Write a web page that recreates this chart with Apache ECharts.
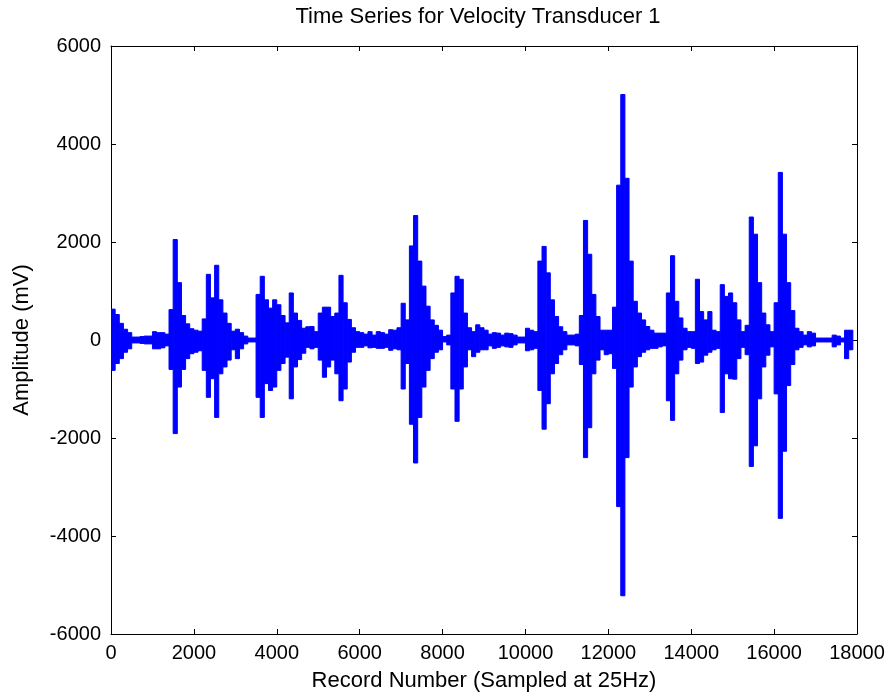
<!DOCTYPE html>
<html>
<head>
<meta charset="utf-8">
<script src="https://cdn.jsdelivr.net/npm/echarts@6/dist/echarts.min.js"></script>
<style>
  html, body { margin: 0; padding: 0; background: #fff; }
  #chart { width: 894px; height: 698px; }
</style>
</head>
<body>
<div id="chart"></div>
<script>
// envelope of the signal: max / min per block of 100 records
const recordsPerBlock = 100
const upper = [
  630, 520, 340, 220, 150, 60, 60, 70, 80, 80,
  170, 150, 150, 120, 620, 2050, 1170, 500, 330, 230,
  200, 180, 430, 1340, 860, 1525, 820, 550, 340, 180,
  220, 150, 80, 40, 40, 930, 1300, 820, 650, 820,
  720, 500, 350, 960, 550, 400, 240, 270, 275, 170,
  550, 670, 670, 480, 550, 1320, 760, 420, 250, 170,
  150, 120, 170, 100, 170, 150, 120, 210, 200, 250,
  750, 410, 1920, 2540, 1610, 1100, 690, 410, 300, 200,
  70, 100, 960, 1300, 1240, 550, 250, 170, 310, 250,
  200, 120, 150, 140, 100, 140, 130, 100, 60, 60,
  240, 200, 170, 1610, 1910, 1370, 820, 480, 270, 170,
  100, 100, 120, 500, 2440, 1750, 930, 480, 200, 200,
  200, 670, 3160, 5010, 3300, 1610, 790, 550, 410, 275,
  200, 140, 140, 140, 960, 1720, 790, 450, 240, 170,
  170, 1240, 580, 410, 580, 200, 170, 1130, 890, 960,
  760, 410, 170, 300, 2510, 2160, 1170, 550, 310, 170,
  760, 3420, 2160, 1170, 600, 240, 170, 100, 170, 140,
  40, 40, 40, 40, 100, 80, 40, 200, 200
]
const lower = [
  -620, -480, -380, -250, -180, -60, -60, -70, -80, -80,
  -180, -180, -160, -120, -600, -1910, -960, -600, -380, -280,
  -250, -220, -620, -1170, -790, -1580, -690, -550, -410, -200,
  -380, -180, -80, -40, -40, -1170, -1580, -890, -1030, -960,
  -620, -480, -350, -1200, -550, -400, -270, -150, -180, -150,
  -410, -760, -550, -410, -690, -1240, -1000, -450, -250, -150,
  -150, -120, -160, -150, -170, -170, -150, -210, -180, -200,
  -1000, -480, -1720, -2510, -1580, -960, -620, -380, -250, -200,
  -40, -100, -1000, -1660, -1000, -550, -200, -340, -250, -200,
  -200, -120, -170, -150, -120, -140, -150, -100, -60, -60,
  -220, -200, -170, -1030, -1820, -1300, -690, -480, -300, -200,
  -100, -100, -120, -500, -2400, -1790, -690, -410, -200, -300,
  -280, -580, -3400, -5220, -2400, -960, -550, -340, -250, -200,
  -170, -170, -140, -120, -1240, -1640, -690, -410, -200, -150,
  -170, -480, -450, -310, -250, -200, -170, -1480, -690, -790,
  -800, -380, -150, -300, -2580, -2160, -1200, -550, -310, -140,
  -1100, -3640, -2270, -930, -500, -200, -150, -100, -140, -120,
  -40, -40, -40, -40, -140, -100, -40, -380, -200
]
const xTicks = [0, 18000, 2000]
const yTicks = [-6000, 6000, 2000]

const blocks = upper.map((u, i) => [i * recordsPerBlock, u, lower[i]])

const font = "'Liberation Sans', Arial, sans-serif"
const frameLine = { show: true, onZero: false, lineStyle: { color: '#000', width: 1 } }
const tick = { show: true, inside: true, length: 5, lineStyle: { color: '#000' } }
const plain = v => String(v)

const chart = echarts.init(document.getElementById('chart'))
chart.setOption({
  animation: false,
  backgroundColor: '#fff',
  textStyle: { fontFamily: font },
  title: {
    text: 'Time Series for Velocity Transducer 1',
    left: 473,
    top: 1,
    textAlign: 'center',
    textStyle: { fontSize: 22, fontWeight: 'normal', color: '#000', fontFamily: font }
  },
  grid: { left: 111, right: 37, top: 46, bottom: 64 },
  xAxis: [
    {
      type: 'value',
      min: xTicks[0], max: xTicks[1], interval: xTicks[2],
      name: 'Record Number (Sampled at 25Hz)',
      nameLocation: 'middle',
      nameGap: 36,
      nameTextStyle: { fontSize: 22, color: '#000', fontFamily: font },
      axisLine: frameLine,
      axisTick: tick,
      axisLabel: { color: '#000', fontSize: 20, margin: 9, fontFamily: font, formatter: plain },
      splitLine: { show: false }
    },
    {
      type: 'value', position: 'top',
      min: xTicks[0], max: xTicks[1], interval: xTicks[2],
      axisLine: frameLine, axisTick: tick,
      axisLabel: { show: false }, splitLine: { show: false }
    }
  ],
  yAxis: [
    {
      type: 'value',
      min: yTicks[0], max: yTicks[1], interval: yTicks[2],
      name: 'Amplitude (mV)',
      nameLocation: 'middle',
      nameGap: 78,
      nameTextStyle: { fontSize: 22, color: '#000', fontFamily: font },
      axisLine: frameLine,
      axisTick: tick,
      axisLabel: { color: '#000', fontSize: 20, margin: 10, fontFamily: font, formatter: plain },
      splitLine: { show: false }
    },
    {
      type: 'value', position: 'right',
      min: yTicks[0], max: yTicks[1], interval: yTicks[2],
      axisLine: frameLine, axisTick: tick,
      axisLabel: { show: false }, splitLine: { show: false }
    }
  ],
  series: [
    {
      type: 'custom',
      data: blocks,
      encode: { x: 0, y: [1, 2] },
      clip: true,
      silent: true,
      renderItem (params, api) {
        const start = api.value(0)
        const top = api.coord([start, api.value(1)])
        const bottom = api.coord([start + recordsPerBlock, api.value(2)])
        return {
          type: 'rect',
          shape: {
            x: top[0],
            y: top[1],
            width: bottom[0] - top[0],
            height: bottom[1] - top[1]
          },
          style: { fill: '#0000ff', stroke: '#0000ff', lineWidth: 1 }
        }
      }
    }
  ]
})
</script>
</body>
</html>
